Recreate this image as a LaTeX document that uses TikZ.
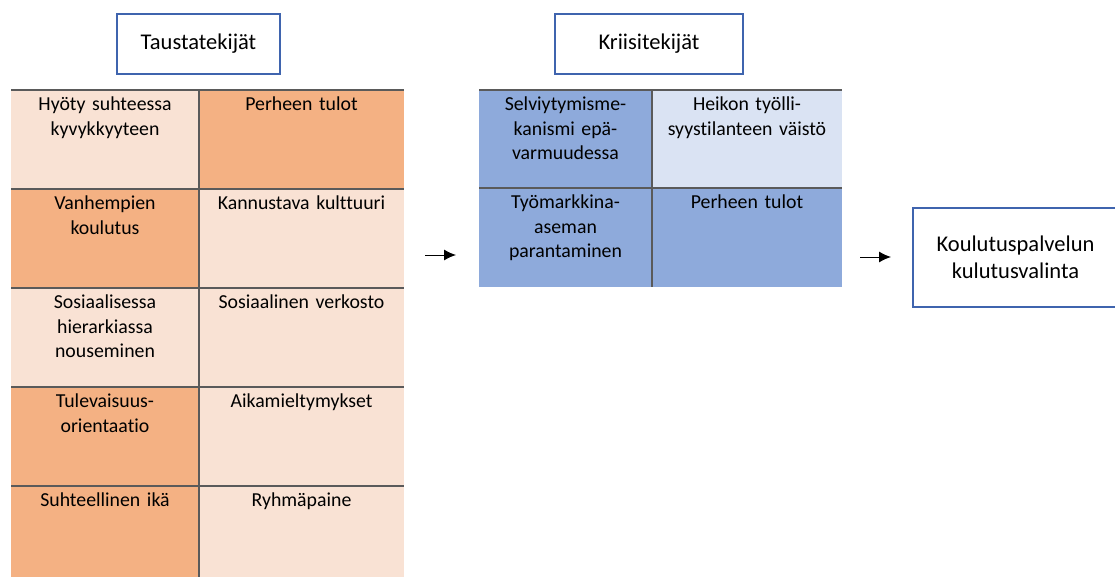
\documentclass[tikz,border=0pt]{standalone}
\usepackage{fontspec}
\setmainfont{Carlito}[Ligatures=NoCommon]
\usetikzlibrary{arrows.meta}
\definecolor{peach}{HTML}{F9E2D4}
\definecolor{orange}{HTML}{F4B183}
\definecolor{bluedark}{HTML}{8EAADB}
\definecolor{bluelight}{HTML}{DAE3F3}
\definecolor{boxblue}{HTML}{3F64AE}
\definecolor{gridgray}{HTML}{5A5A5A}
\tikzset{
  celltext/.style={anchor=north, align=center, font=\fontsize{19.8}{24.5}\selectfont, inner sep=0pt, text width=#1},
  titlebox/.style={draw=boxblue, line width=2pt, fill=white, inner sep=0pt, font=\fontsize{22.5}{27}\selectfont, align=center},
  grid/.style={draw=gridgray, line width=1.4pt},
  arr/.style={line width=1pt, -{Latex[length=12pt,width=11pt]}},
}
\begin{document}
\begin{tikzpicture}[x=1pt,y=-1pt]
\useasboundingbox (0,0) rectangle (1115,577);
% left table cells
\def\lx{11}\def\mx{199}\def\rx{404}
\foreach \r/\ya/\yb/\ca/\cb in {1/90/189/peach/orange, 2/189/288/orange/peach, 3/288/387/peach/peach, 4/387/486/orange/peach, 5/486/577/orange/peach}{
  \path[fill=\ca] (\lx,\ya) rectangle (\mx,\yb);
  \path[fill=\cb] (\mx,\ya) rectangle (\rx,\yb);
  \coordinate (la\r) at ({(\lx+\mx)/2},\ya);
  \coordinate (lb\r) at ({(\mx+\rx)/2},\ya);
}
\foreach \y in {90,189,288,387,486}{
  \draw[grid] (\lx,\y) -- (\rx,\y);
}
\draw[grid] (\mx,90) -- (\mx,577);
\node[celltext=180pt] (t1a) at ([yshift=-7]la1) {Hyöty suhteessa\\kyvykkyyteen};
\node[celltext=200pt] (t1b) at ([yshift=-7]lb1) {Perheen tulot};
\node[celltext=180pt] (t2a) at ([yshift=-7]la2) {Vanhempien\\koulutus};
\node[celltext=200pt] (t2b) at ([yshift=-7]lb2) {Kannustava kulttuuri};
\node[celltext=180pt] (t3a) at ([yshift=-7]la3) {Sosiaalisessa\\hierarkiassa\\nouseminen};
\node[celltext=200pt] (t3b) at ([yshift=-7]lb3) {Sosiaalinen verkosto};
\node[celltext=180pt] (t4a) at ([yshift=-7]la4) {Tulevaisuus-\\orientaatio};
\node[celltext=200pt] (t4b) at ([yshift=-7]lb4) {Aikamieltymykset};
\node[celltext=180pt] (t5a) at ([yshift=-7]la5) {Suhteellinen ikä};
\node[celltext=200pt] (t5b) at ([yshift=-7]lb5) {Ryhmäpaine};
% right table
\path[fill=bluedark] (479,90) rectangle (652,188);
\path[fill=bluelight] (652,90) rectangle (842,188);
\path[fill=bluedark] (479,188) rectangle (652,287);
\path[fill=bluedark] (652,188) rectangle (842,287);
\draw[grid] (479,90) -- (842,90);
\draw[grid] (479,188) -- (842,188);
\draw[grid] (652,90) -- (652,287);
\coordinate (ra1) at ({(479+652)/2},90);
\coordinate (rb1) at ({(652+842)/2},90);
\coordinate (ra2) at ({(479+652)/2},188);
\coordinate (rb2) at ({(652+842)/2},188);
\node[celltext=170pt] (s1a) at ([yshift=-7]ra1) {Selviytymisme-\\kanismi epä-\\varmuudessa};
\node[celltext=190pt] (s1b) at ([yshift=-7]rb1) {Heikon työlli-\\syystilanteen väistö};
\node[celltext=170pt] (s2a) at ([yshift=-7]ra2) {Työmarkkina-\\aseman\\parantaminen};
\node[celltext=190pt] (s2b) at ([yshift=-7]rb2) {Perheen tulot};
% title boxes
\node[titlebox, minimum width=163pt, minimum height=60pt] (taus) at (198.5,44) {Taustatekijät};
\node[titlebox, minimum width=188pt, minimum height=60pt] (kriisi) at (649,44) {Kriisitekijät};
\node[titlebox, minimum width=205pt, minimum height=99pt, anchor=north west] (koul) at (912,207) {Koulutuspalvelun\\kulutusvalinta};
% arrows
\coordinate (a1s) at (425,255);
\coordinate (a1e) at (456,255);
\coordinate (a2s) at (860,257);
\coordinate (a2e) at (891,257);
\draw[arr] (a1s) -- (a1e);
\draw[arr] (a2s) -- (a2e);
\end{tikzpicture}
\end{document}
